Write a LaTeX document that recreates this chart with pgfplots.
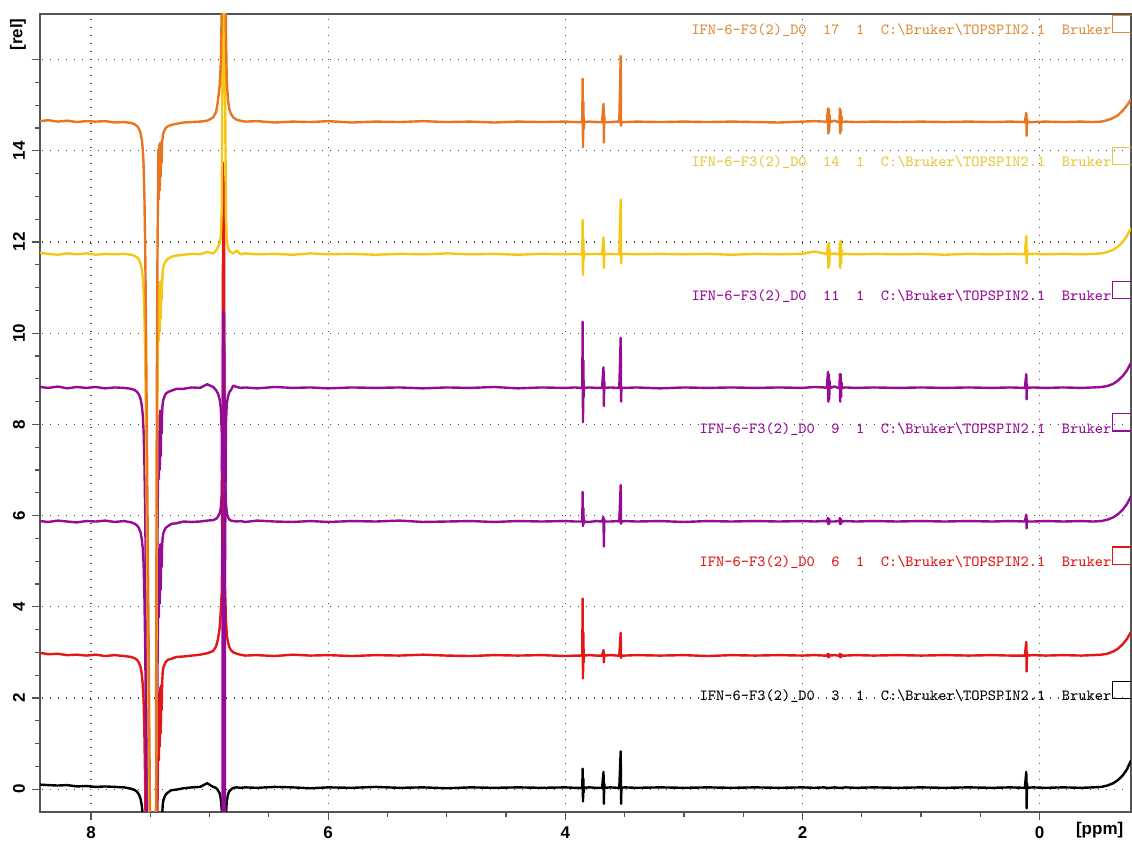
\documentclass[border=0pt]{standalone}
\usepackage{fontspec}
\setmainfont{Liberation Sans}
\usepackage{pgfplots}
\usepackage{pgfplotstable}
\pgfplotsset{compat=1.18}
\definecolor{cOr}{RGB}{234,117,32}
\definecolor{cYe}{RGB}{246,198,20}
\definecolor{cPu}{RGB}{150,10,150}
\definecolor{cRe}{RGB}{228,22,22}
\definecolor{cBk}{RGB}{0,0,0}
\definecolor{lOr}{RGB}{222,140,60}
\definecolor{lYe}{RGB}{230,200,60}
\definecolor{axgray}{RGB}{85,85,85}

\pgfplotstableread{
x k r p9 p11 yl o
8.43 0.07 0.06 0.01 0.02 0.03 0.02
8.36 0.06 0.03 -0.01 0.00 0.01 0.04
8.28 0.05 0.04 0.02 0.03 -0.01 0.01
8.20 0.06 0.01 0.00 -0.01 0.02 0.03
8.12 0.03 0.02 -0.02 0.02 0.00 0.00
8.04 0.04 0.00 0.01 0.00 0.02 0.02
7.96 0.02 0.02 0.00 0.02 -0.01 0.01
7.88 0.03 -0.01 0.02 -0.01 0.01 0.02
7.80 0.02 0.01 -0.01 0.01 0.00 -0.01
7.72 0.01 -0.01 0.01 0.00 0.01 0.00
7.66 -0.02 -0.03 -0.02 -0.02 -0.01 -0.02
7.63 -0.05 -0.06 -0.05 -0.05 -0.04 -0.05
7.61 -0.09 -0.10 -0.09 -0.09 -0.07 -0.09
7.595 -0.15 -0.16 -0.15 -0.15 -0.12 -0.15
7.582 -0.24 -0.25 -0.24 -0.24 -0.20 -0.24
7.572 -0.38 -0.40 -0.38 -0.38 -0.32 -0.38
7.563 -0.60 -0.65 -0.60 -0.60 -0.50 -0.60
7.556 -0.95 -1.00 -0.95 -0.95 -0.80 -0.95
7.549 -1.7 -1.8 -1.7 -1.7 -1.4 -1.7
7.542 -2.9 -3.0 -2.9 -2.9 -2.4 -2.9
7.535 -4.8 -5.0 -4.8 -4.8 -4.0 -4.8
7.525 -8 -8 -8 -8 -7 -8
7.512 -12 -12 -12 -12 -11 -12
7.500 -16 -16 -16 -16 -15 -16
7.485 -22 -22 -22 -22 -21 -22
7.470 -30 -30 -30 -30 -30 -30
7.460 -30 -30 -30 -30 -30 -30
7.455 -20 -20 -20 -20 -20 -20
7.450 -12 -12 -12 -12 -12 -12
7.445 -6 -6 -6 -6 -6 -6
7.440 -3.5 -3.5 -3.5 -3.5 -3.5 -3.2
7.436 -2.6 -2.55 -2.35 -2.25 -2.1 -1.85
7.432 -1.0 -0.9 -0.7 -0.7 -0.8 -0.6
7.428 -2.4 -2.3 -2.1 -2.0 -1.9 -1.7
7.424 -0.9 -0.8 -0.6 -0.6 -0.7 -0.5
7.420 -2.1 -2.0 -1.8 -1.8 -1.7 -1.5
7.416 -0.8 -0.7 -0.5 -0.5 -0.6 -0.45
7.412 -1.8 -1.7 -1.5 -1.5 -1.4 -1.2
7.408 -0.7 -0.65 -0.55 -0.55 -0.65 -0.5
7.404 -1.2 -1.2 -1.0 -1.0 -1.0 -0.9
7.400 -0.6 -0.6 -0.5 -0.5 -0.6 -0.45
7.395 -0.38 -0.36 -0.35 -0.35 -0.38 -0.33
7.390 -0.28 -0.27 -0.26 -0.26 -0.28 -0.25
7.380 -0.20 -0.20 -0.19 -0.19 -0.20 -0.18
7.370 -0.15 -0.14 -0.14 -0.13 -0.15 -0.13
7.350 -0.10 -0.09 -0.10 -0.09 -0.10 -0.09
7.320 -0.05 -0.07 -0.05 -0.06 -0.05 -0.06
7.280 -0.04 -0.03 -0.04 -0.02 -0.03 -0.04
7.220 -0.01 -0.02 0.00 -0.02 -0.01 -0.01
7.150 0.01 0.00 -0.01 0.01 0.01 0.00
7.080 0.02 0.02 0.00 0.00 0.00 0.01
7.020 0.10 0.05 0.02 0.08 0.05 0.03
6.970 0.02 0.10 0.03 0.02 0.02 0.10
6.945 0.00 0.20 0.06 -0.05 0.08 0.22
6.930 -0.05 0.35 0.10 -0.12 0.15 0.45
6.915 -0.12 0.60 0.18 -0.25 0.25 0.80
6.905 -0.25 1.00 0.30 -0.45 0.40 1.30
6.897 -0.50 1.40 0.60 -1.00 1.00 2.50
6.890 -2.0 3.0 2.0 -5 5 8
6.886 -30 10.8 4.6 -30 30 30
6.882 -30 8.0 4.3 -30 30 30
6.878 -30 10.5 4.6 -30 30 30
6.874 -30 4.0 3.0 -30 30 30
6.870 -3.0 1.5 1.0 -4 4 6
6.862 -0.6 0.8 0.4 -0.8 0.8 2.0
6.855 -0.3 0.45 0.2 -0.35 0.3 0.9
6.845 -0.15 0.30 0.1 -0.2 0.15 0.5
6.835 -0.08 0.20 0.05 -0.1 0.08 0.3
6.820 -0.04 0.12 0.02 -0.05 0.05 0.18
6.800 0.00 0.07 0.01 0.05 0.02 0.10
6.770 0.01 0.04 0.00 0.02 0.08 0.05
6.740 0.00 0.02 0.01 0.00 0.00 0.03
6.700 0.01 0.00 -0.01 0.01 0.02 0.01
6.60 0.00 0.01 0.02 -0.01 0.00 0.02
6.45 0.02 -0.01 0.00 0.02 0.01 -0.01
6.30 0.01 0.02 -0.01 0.00 -0.01 0.01
6.15 -0.01 0.00 0.01 0.01 0.02 0.00
6.00 0.01 0.01 -0.01 -0.01 0.00 0.02
5.80 0.00 -0.01 0.01 0.01 0.01 -0.01
5.60 0.02 0.01 0.00 0.00 -0.01 0.01
5.40 0.00 0.00 0.02 0.01 0.01 0.00
5.20 0.01 0.02 -0.01 -0.01 0.00 0.02
5.00 -0.01 0.00 0.00 0.01 0.02 0.00
4.80 0.01 -0.01 0.01 0.00 0.00 0.01
4.60 0.00 0.01 -0.01 0.02 0.01 -0.01
4.40 0.01 0.00 0.01 -0.01 -0.01 0.01
4.20 0.00 0.01 0.00 0.01 0.01 0.00
4.00 0.01 -0.01 0.01 0.00 0.00 0.01
3.92 0.00 0.00 0.00 0.01 0.01 0.00
3.870 0.00 0.00 0.00 0.00 0.00 0.00
3.857 0.00 0.02 0.00 0.02 0.00 0.02
3.854 0.42 1.25 0.65 1.45 0.75 0.95
3.851 -0.30 -0.50 -0.10 -0.75 -0.45 -0.55
3.848 0.20 0.50 0.30 0.60 0.35 0.45
3.845 -0.10 -0.15 -0.05 -0.20 -0.12 -0.15
3.842 0.00 0.00 0.00 0.00 0.00 0.00
3.800 0.01 0.01 -0.01 0.01 0.00 0.01
3.740 0.00 0.00 0.01 0.00 0.01 0.00
3.690 0.00 0.00 0.00 0.00 0.00 0.00
3.678 0.35 0.12 0.10 0.45 0.37 0.40
3.675 -0.35 -0.15 -0.55 -0.40 -0.30 -0.45
3.672 0.10 0.04 0.05 0.15 0.10 0.15
3.669 0.00 0.00 0.00 0.00 0.00 0.00
3.620 0.01 0.01 0.00 0.01 0.01 0.00
3.560 0.00 0.00 0.01 0.00 0.00 0.01
3.545 0.00 0.00 0.00 0.00 0.00 0.00
3.533 0.80 0.50 0.80 1.10 1.20 1.45
3.530 -0.35 -0.05 -0.05 -0.30 -0.20 -0.08
3.527 0.00 0.00 0.00 0.00 0.00 0.00
3.500 0.01 0.00 0.01 0.00 0.01 0.00
3.40 0.00 0.01 0.00 0.01 0.00 0.01
3.20 0.01 0.00 0.01 -0.01 0.01 0.00
3.00 0.00 0.01 -0.01 0.01 0.00 0.01
2.80 0.01 -0.01 0.01 0.00 0.01 0.00
2.60 0.00 0.01 0.00 0.01 -0.01 0.01
2.40 0.01 0.00 0.01 0.00 0.01 0.00
2.20 0.00 0.01 0.00 0.01 0.00 -0.01
2.00 0.01 0.00 0.01 0.00 0.01 0.01
1.90 0.00 0.01 0.00 0.02 0.06 0.02
1.82 0.01 0.00 0.01 0.01 0.02 0.01
1.795 0.00 0.00 0.00 0.00 0.00 0.00
1.785 0.00 0.04 0.08 0.35 0.20 0.30
1.782 0.00 -0.04 -0.06 -0.30 -0.30 -0.25
1.778 0.00 0.03 0.06 0.30 0.25 0.28
1.775 0.00 -0.03 -0.05 -0.25 -0.25 -0.20
1.771 0.00 0.02 0.03 0.15 0.10 0.15
1.768 0.00 0.00 0.00 0.00 0.00 0.00
1.730 0.01 0.01 0.00 0.03 0.02 0.03
1.700 0.00 0.00 0.01 0.00 0.00 0.00
1.688 0.00 0.00 0.00 0.00 0.00 0.00
1.685 0.00 0.04 0.08 0.30 0.25 0.30
1.682 0.00 -0.04 -0.06 -0.30 -0.30 -0.25
1.678 0.00 0.03 0.06 0.30 0.30 0.25
1.675 0.00 -0.03 -0.05 -0.20 -0.20 -0.20
1.671 0.00 0.02 0.03 0.12 0.10 0.12
1.668 0.00 0.00 0.00 0.00 0.00 0.00
1.640 0.01 0.00 0.01 0.01 0.01 0.01
1.55 0.00 0.01 0.00 0.00 0.00 0.00
1.40 0.01 0.00 0.01 0.01 0.01 0.01
1.20 0.00 0.01 0.00 0.00 0.00 0.00
1.00 0.01 0.00 0.01 0.01 0.01 0.01
0.80 0.00 0.01 0.00 0.00 -0.01 0.00
0.60 0.01 0.00 0.01 0.01 0.01 0.01
0.40 0.00 0.01 0.00 0.00 0.00 0.00
0.25 0.01 0.00 0.01 0.01 0.01 0.01
0.125 0.00 0.00 0.00 0.00 0.00 0.00
0.113 0.35 0.30 0.15 0.30 0.40 0.20
0.110 -0.45 -0.35 -0.15 -0.25 -0.20 -0.30
0.107 0.10 0.08 0.05 0.08 0.10 0.08
0.104 0.00 0.00 0.00 0.00 0.00 0.00
0.06 0.01 0.01 0.00 0.01 0.01 0.00
-0.05 0.00 0.00 0.01 0.00 0.00 0.01
-0.20 0.01 0.01 0.00 0.01 0.01 0.00
-0.35 0.00 0.00 0.01 0.00 0.00 0.01
-0.45 0.01 0.01 0.00 0.01 0.01 0.00
-0.52 0.02 0.02 0.01 0.02 0.02 0.01
-0.57 0.05 0.04 0.04 0.04 0.05 0.04
-0.62 0.10 0.09 0.09 0.09 0.10 0.09
-0.66 0.17 0.15 0.16 0.16 0.17 0.15
-0.70 0.27 0.25 0.26 0.26 0.27 0.25
-0.735 0.40 0.36 0.38 0.38 0.40 0.36
-0.77 0.60 0.52 0.55 0.55 0.57 0.50
}\spec

\newcommand{\lab}[1]{IFN-6-F3(2)\_D0~~#1~~1~~C:\textbackslash Bruker\textbackslash TOPSPIN2.1~~Bruker}
\tikzset{trlab/.style={anchor=base east, inner sep=0pt, font=\ttfamily\fontsize{7.75}{9}\selectfont}}

\begin{document}
\begin{tikzpicture}
\begin{axis}[
  scale only axis, width=545.5pt, height=399pt,
  x dir=reverse, xmin=-0.77, xmax=8.43, ymin=-0.5, ymax=17.0,
  xtick={0,2,4,6,8}, xticklabels={0,2,4,6,8},
  ytick={0,2,4,6,8,10,12,14,16}, yticklabels={0,2,4,6,8,10,12,14,{}},
  minor x tick num=3, minor y tick num=3,
  tick pos=left, tick align=outside,
  major tick length=4pt, minor tick length=2.5pt,
  tick style={axgray, line width=0.6pt},
  axis line style={axgray, line width=0.8pt},
  grid=major,
  major grid style={black!70, line width=0.6pt, dash pattern=on 0.6pt off 3.4pt},
  ticklabel style={font=\fontsize{8.5}{10}\selectfont\bfseries},
  yticklabel style={rotate=90, anchor=south},
  clip mode=individual,
  every axis plot/.append style={line width=1.2pt, line join=round},
]
\addplot[cBk] table[x=x, y expr=\thisrow{k}+0.03] {\spec};
\addplot[cRe] table[x=x, y expr=\thisrow{r}+2.93] {\spec};
\addplot[cPu] table[x=x, y expr=\thisrow{p9}+5.87] {\spec};
\addplot[cPu] table[x=x, y expr=\thisrow{p11}+8.8] {\spec};
\addplot[cYe] table[x=x, y expr=\thisrow{yl}+11.73] {\spec};
\addplot[cOr] table[x=x, y expr=\thisrow{o}+14.63] {\spec};

\node[trlab, text=lOr] at (axis cs:-0.607,16.55) {\lab{17}};
\node[trlab, text=lYe] at (axis cs:-0.607,13.65) {\lab{14}};
\node[trlab, text=cPu] at (axis cs:-0.607,10.71) {\lab{11}};
\node[trlab, text=cPu] at (axis cs:-0.607,7.81) {\lab{9}};
\node[trlab, text=cRe] at (axis cs:-0.607,4.89) {\lab{6}};
\node[trlab, text=cBk] at (axis cs:-0.607,1.95) {\lab{3}};

\draw[lOr, line width=0.6pt] (axis cs:-0.77,16.97) -- (axis cs:-0.615,16.97) -- (axis cs:-0.615,16.595) -- (axis cs:-0.77,16.595);
\draw[lYe, line width=0.6pt] (axis cs:-0.77,14.07) -- (axis cs:-0.615,14.07) -- (axis cs:-0.615,13.695) -- (axis cs:-0.77,13.695);
\draw[cPu, line width=0.6pt] (axis cs:-0.77,11.13) -- (axis cs:-0.615,11.13) -- (axis cs:-0.615,10.755) -- (axis cs:-0.77,10.755);
\draw[cPu, line width=0.6pt] (axis cs:-0.77,8.23) -- (axis cs:-0.615,8.23) -- (axis cs:-0.615,7.855) -- (axis cs:-0.77,7.855);
\draw[cRe, line width=0.6pt] (axis cs:-0.77,5.31) -- (axis cs:-0.615,5.31) -- (axis cs:-0.615,4.935) -- (axis cs:-0.77,4.935);
\draw[cBk, line width=0.6pt] (axis cs:-0.77,2.37) -- (axis cs:-0.615,2.37) -- (axis cs:-0.615,1.995) -- (axis cs:-0.77,1.995);

\node[rotate=90, font=\fontsize{8.5}{10}\selectfont\bfseries] at ([xshift=-11pt]axis cs:8.43,16.55) {[rel]};
\node[font=\fontsize{8.5}{10}\selectfont\bfseries] at ([yshift=-9pt]axis cs:-0.506,-0.5) {[ppm]};
\end{axis}
\pgfresetboundingbox
\path ([xshift=-20pt,yshift=-17pt]current axis.south west) rectangle ([xshift=0.5pt,yshift=7pt]current axis.north east);
\end{tikzpicture}
\end{document}
